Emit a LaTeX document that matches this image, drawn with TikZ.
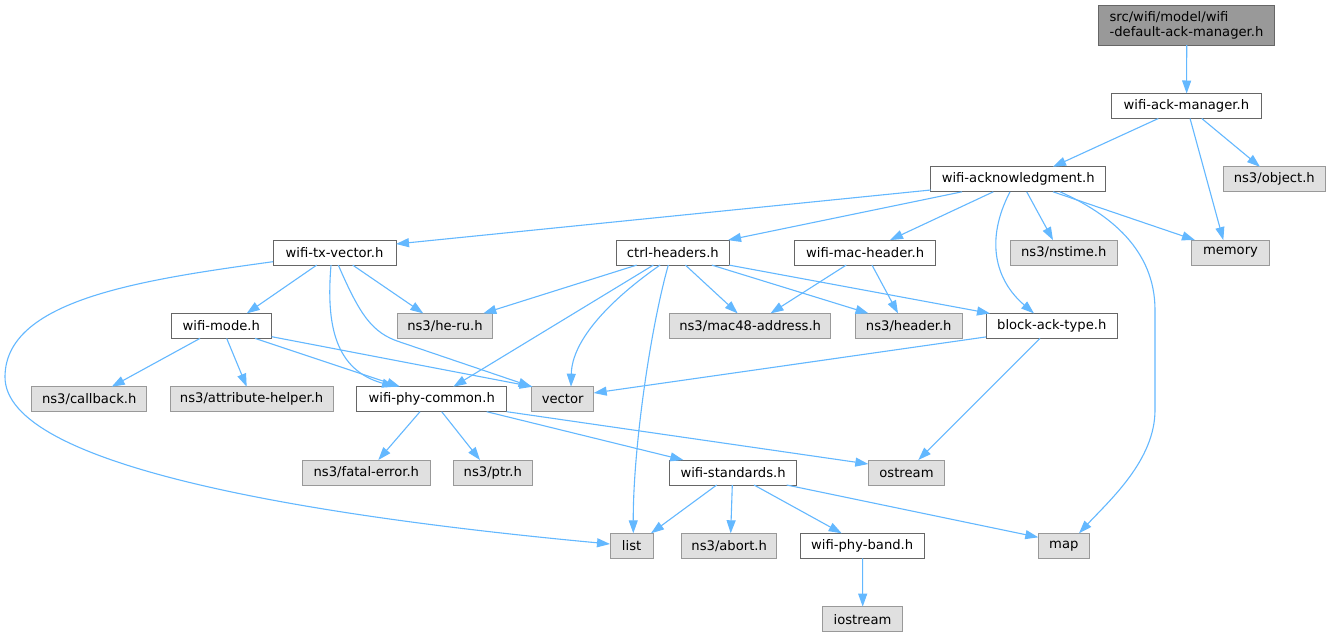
\documentclass[tikz,border=0pt]{standalone}
\usepackage{fontspec}
\setmainfont{DejaVu Sans}
\usetikzlibrary{arrows.meta}
\definecolor{edgec}{HTML}{63B8FF}
\definecolor{cSix}{HTML}{666666}
\definecolor{cNine}{HTML}{999999}
\definecolor{cGray}{HTML}{E0E0E0}
\tikzset{
  base/.style={draw, rectangle, inner sep=0pt, outer sep=0pt, minimum height=25pt,
    font=\fontsize{13.15pt}{15pt}\selectfont, line width=1pt, text=black},
  wbox/.style={base, fill=white, draw=cSix},
  gbox/.style={base, fill=cGray, draw=cNine},
  topbox/.style={base, fill=cNine, draw=cSix, minimum height=40pt, align=left},
  edge/.style={draw=edgec, line width=1.1pt, -{Triangle[length=13pt,width=9pt]}}
}
\begin{document}
\begin{tikzpicture}[x=1pt,y=-1pt]
\fill[white] (0,0) rectangle (1331,637);
\useasboundingbox (0,0) rectangle (1331,637);
% rank 0
\node[topbox, minimum width=176.4pt] (top) at (1186.5,25) {src/wifi/model/wifi\\-default-ack-manager.h};
% rank 1
\node[wbox, minimum width=149.3pt] (wam) at (1186.35,106) {wifi-ack-manager.h};
% rank 2
\node[wbox, minimum width=175pt] (wak) at (1018.2,179.3) {wifi-acknowledgment.h};
\node[gbox, minimum width=102pt] (obj) at (1274.3,179.3) {ns3/object.h};
% rank 3
\node[wbox, minimum width=123pt] (txv) at (334.5,252.6) {wifi-tx-vector.h};
\node[wbox, minimum width=112.5pt] (ctrl) at (672.85,252.6) {ctrl-headers.h};
\node[wbox, minimum width=141.2pt] (wmh) at (865.1,252.6) {wifi-mac-header.h};
\node[gbox, minimum width=107pt] (nst) at (1063.8,252.6) {ns3/nstime.h};
\node[gbox, minimum width=77.6pt] (mem) at (1230.5,252.6) {memory};
% rank 4
\node[wbox, minimum width=100.7pt] (mode) at (221.35,325.9) {wifi-mode.h};
\node[gbox, minimum width=94.6pt] (heru) at (445,325.9) {ns3/he-ru.h};
\node[gbox, minimum width=161.1pt] (mac48) at (750.15,325.9) {ns3/mac48-address.h};
\node[gbox, minimum width=106.5pt] (hdr) at (908.75,325.9) {ns3/header.h};
\node[wbox, minimum width=131.1pt] (bat) at (1051.75,325.9) {block-ack-type.h};
% rank 5
\node[gbox, minimum width=115pt] (cb) at (89.2,399.2) {ns3/callback.h};
\node[gbox, minimum width=163.3pt] (attr) at (251.65,399.2) {ns3/attribute-helper.h};
\node[wbox, minimum width=150pt] (wpc) at (431.7,399.2) {wifi-phy-common.h};
\node[gbox, minimum width=62.2pt] (vec) at (562.6,399.2) {vector};
% rank 6
\node[gbox, minimum width=127.3pt] (fat) at (366.35,472.5) {ns3/fatal-error.h};
\node[gbox, minimum width=79pt] (ptr) at (492.8,472.5) {ns3/ptr.h};
\node[wbox, minimum width=127.2pt] (wstd) at (733.1,472.5) {wifi-standards.h};
\node[gbox, minimum width=76.4pt] (ost) at (906.5,472.5) {ostream};
% rank 7
\node[gbox, minimum width=43.3pt] (list) at (631.65,545.8) {list};
\node[gbox, minimum width=95pt] (abort) at (729.2,545.8) {ns3/abort.h};
\node[wbox, minimum width=124.3pt] (band) at (862.15,545.8) {wifi-phy-band.h};
\node[gbox, minimum width=51pt] (map) at (1063.8,545.8) {map};
% rank 8
\node[gbox, minimum width=80.4pt] (ios) at (862.5,619.1) {iostream};

% edges
\draw[edge] ([xshift=0.2pt]top.south) -- ([xshift=0.3pt]wam.north);
\draw[edge] ([xshift=-28pt]wam.south) -- ([xshift=34.8pt]wak.north);
\draw[edge] ([xshift=3.7pt]wam.south) -- ([xshift=-7.2pt]mem.north);
\draw[edge] ([xshift=15.4pt]wam.south) -- ([xshift=-14.3pt]obj.north);
\draw[edge] ([yshift=-10.7pt]wak.west) -- ([yshift=8.6pt]txv.east);
\draw[edge] ([xshift=-56.2pt]wak.south) -- ([xshift=55.2pt]ctrl.north);
\draw[edge] ([xshift=-24.9pt]wak.south) -- ([xshift=24.9pt]wmh.north);
\draw[edge] ([xshift=-8.2pt]wak.south) .. controls (985,240) and (995,280) .. ([xshift=-17.75pt]bat.north);
\draw[edge] ([xshift=8.5pt]wak.south) -- ([xshift=-10.8pt]nst.north);
\draw[edge] ([xshift=34.8pt]wak.south) -- ([xshift=-35.5pt]mem.north);
\draw[edge] ([xshift=41.8pt]wak.south) .. controls (1110,214) and (1155,250) .. (1155,310) -- (1155,410) .. controls (1155,460) and (1110,500) .. ([xshift=15.2pt]map.north);

\draw[edge] ([xshift=-17.8pt]txv.south) -- ([xshift=25.35pt]mode.north);
\draw[edge] ([xshift=18.2pt]txv.south) -- ([xshift=-21.7pt]heru.north);
\draw[edge] ([xshift=-3.5pt]txv.south) .. controls (326,325) and (335,370) .. ([xshift=-36.7pt]wpc.north);
\draw[edge] ([xshift=3.8pt]txv.south) .. controls (360,315) and (372,333) .. (400,342) -- ([xshift=-31pt]vec.north);
\draw[edge] ([yshift=-9.1pt]txv.west) .. controls (140,280) and (5,300) .. (5,377) .. controls (5,465) and (300,515) .. ([yshift=1.8pt]list.west);

\draw[edge] ([xshift=-36.2pt]ctrl.south) -- ([xshift=38.3pt]heru.north);
\draw[edge] ([xshift=-19.5pt]ctrl.south) -- ([xshift=21.6pt]wpc.north);
\draw[edge] ([xshift=-12.85pt]ctrl.south) .. controls (610,300) and (572,340) .. ([xshift=8.4pt]vec.north);
\draw[edge] ([xshift=-4.55pt]ctrl.south) .. controls (650,330) and (633,450) .. ([xshift=1.65pt]list.north);
\draw[edge] ([xshift=12.55pt]ctrl.south) -- ([xshift=-12.45pt]mac48.north);
\draw[edge] ([xshift=39pt]ctrl.south) -- ([xshift=-40.2pt]hdr.north);
\draw[edge] (ctrl.south east) -- ([xshift=-61.75pt]bat.north);

\draw[edge] ([xshift=-18.9pt]wmh.south) -- ([xshift=20.35pt]mac48.north);
\draw[edge] ([xshift=6.9pt]wmh.south) -- ([xshift=-10.75pt]hdr.north);
\draw[edge] ([yshift=-11pt]bat.west) -- ([yshift=6.2pt]vec.east);
\draw[edge] ([xshift=-11.75pt]bat.south) -- ([xshift=11.8pt]ost.north);

\draw[edge] ([xshift=-21.35pt]mode.south) -- ([xshift=22.5pt]cb.north);
\draw[edge] ([xshift=5.35pt]mode.south) -- ([xshift=-4.95pt]attr.north);
\draw[edge] ([xshift=33.65pt]mode.south) -- ([xshift=-31.7pt]wpc.north);
\draw[edge] ([yshift=-10.8pt]mode.east) -- ([xshift=-30pt]vec.north);

\draw[edge] ([xshift=-11.7pt]wpc.south) -- ([xshift=11.95pt]fat.north);
\draw[edge] ([xshift=10pt]wpc.south) -- ([xshift=-12.8pt]ptr.north);
\draw[edge] ([xshift=55pt]wpc.south) -- ([xshift=-49.8pt]wstd.north);
\draw[edge] (wpc.south east) -- ([yshift=8.5pt]ost.west);

\draw[edge] ([xshift=-16.4pt]wstd.south) -- ([xshift=19.35pt]list.north);
\draw[edge] ([xshift=-0.8pt]wstd.south) -- ([xshift=1.5pt]abort.north);
\draw[edge] ([xshift=20.9pt]wstd.south) -- ([xshift=-20.45pt]band.north);
\draw[edge] ([xshift=53.6pt]wstd.south) -- ([yshift=8.5pt]map.west);
\draw[edge] ([xshift=0.5pt]band.south) -- ([xshift=0.2pt]ios.north);
\end{tikzpicture}
\end{document}
